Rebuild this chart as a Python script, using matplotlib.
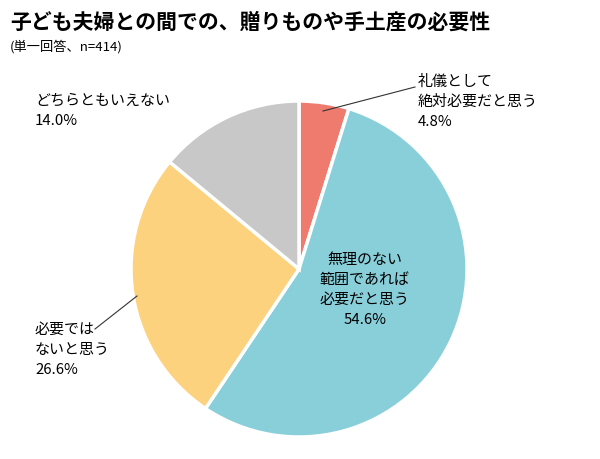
import matplotlib
matplotlib.use("Agg")
import matplotlib.pyplot as plt

plt.rcParams["font.family"] = "Noto Sans CJK JP"

labels = ["礼儀として\n絶対必要だと思う", "無理のない\n範囲であれば\n必要だと思う", "必要では\nないと思う", "どちらともいえない"]
values = [4.8, 54.6, 26.6, 14.0]
colors = ["#EE7B6E", "#89CFDA", "#FCD27E", "#C8C8C8"]

W, H = 600, 460
fig = plt.figure(figsize=(6, 4.6), dpi=100)
cx, cy, r = 299, 270, 168
ax = fig.add_axes([(cx - r) / W, (H - cy - r) / H, 2 * r / W, 2 * r / H])
ax.pie(values, colors=colors, startangle=90, counterclock=False,
       wedgeprops=dict(edgecolor="white", linewidth=2.5))
ax.set_xlim(-1, 1)
ax.set_ylim(-1, 1)
ax.set_aspect("equal")
ax.axis("off")

def fx(x): return x / W
def fy(y): return 1 - y / H

fig.text(fx(10), fy(22), "子ども夫婦との間での、贈りものや手土産の必要性", fontsize=15,
         fontweight="bold", va="center", ha="left")
fig.text(fx(10), fy(47), "(単一回答、n=414)", fontsize=9.5, va="center", ha="left")

fs = 10.8
ls = 1.55
fig.text(fx(418), fy(102), f"{labels[0]}\n{values[0]}%", fontsize=fs, ha="left", va="center", linespacing=ls)
fig.text(fx(365), fy(290), f"{labels[1]}\n{values[1]}%", fontsize=fs, ha="center", va="center", linespacing=ls)
fig.text(fx(35), fy(350), f"{labels[2]}\n{values[2]}%", fontsize=fs, ha="left", va="center", linespacing=ls)
fig.text(fx(35), fy(111), f"{labels[3]}\n{values[3]}%", fontsize=fs, ha="left", va="center", linespacing=ls)

fig.add_artist(plt.Line2D([fx(323), fx(415)], [fy(112), fy(88)], color="#333333", lw=0.8))
fig.add_artist(plt.Line2D([fx(95), fx(137)], [fy(330), fy(297)], color="#333333", lw=0.8))

fig.savefig("out.png", dpi=100, facecolor="white")
